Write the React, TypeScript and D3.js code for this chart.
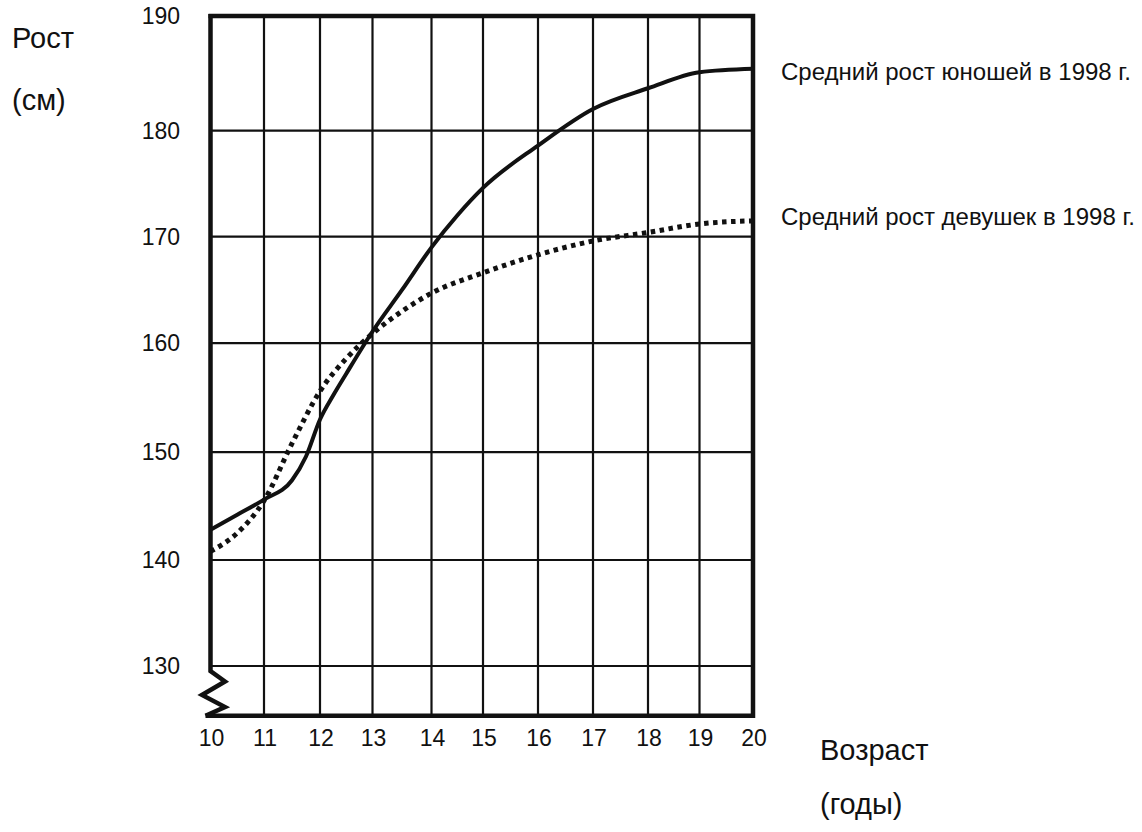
import { useEffect, useRef } from "react";
import * as d3 from "d3";

// ages on the x axis (grid columns)
const ages = [10, 11, 12, 13, 14, 15, 16, 17, 18, 19, 20];
// heights on the y axis (grid rows)
const heights = [190, 180, 170, 160, 150, 140, 130];
const axisBottomValue = 125.3;

// boys (solid line)
const boysAges = [10, 10.5, 11, 11.5, 11.75, 12, 12.25, 12.5, 13, 13.5, 14, 14.5, 15, 16, 17, 18, 19, 20];
const boysHeights = [142.8, 144.2, 145.6, 147.4, 149.6, 153.0, 155.2, 157.2, 161.1, 165.0, 169.0, 172.0, 174.6, 178.6, 181.9, 183.7, 185.1, 185.4];

// girls (dotted line)
const girlsAges = [10, 10.5, 11, 11.5, 12, 12.5, 13, 13.5, 14, 15, 16, 17, 18, 19, 20];
const girlsHeights = [140.8, 142.5, 145.5, 150.8, 155.6, 158.6, 160.9, 163.0, 164.7, 166.6, 168.3, 169.6, 170.4, 171.2, 171.5];

const boysLabel = "Средний рост юношей в 1998 г.";
const girlsLabel = "Средний рост девушек в 1998 г.";

function App() {
  const svgRef = useRef<SVGSVGElement>(null);

  useEffect(() => {
    const svgElement = svgRef.current;
    if (!svgElement) return;

    const width = 1142;
    const height = 832;
    const font = "'Liberation Sans', Arial, sans-serif";
    const ink = "#111";

    const svg = d3
      .select(svgElement)
      .attr("width", width)
      .attr("height", height);

    // hand drawn grid: columns are not perfectly even
    const x = d3
      .scaleLinear()
      .domain(ages)
      .range([210.5, 264, 320, 372.5, 431.5, 483, 538, 593, 648, 699.5, 753]);

    const y = d3
      .scaleLinear()
      .domain(heights)
      .range([16, 130.7, 236.7, 343.2, 452.2, 560, 666]);

    const x0 = x(ages[0]);
    const x1 = x(ages[ages.length - 1]);
    const yTop = y(heights[0]);
    const yBottom = y(axisBottomValue);

    const g = svg.append("g");

    // vertical grid lines
    g.selectAll(".vgrid")
      .data(ages.slice(1, -1))
      .enter()
      .append("line")
      .attr("x1", (d) => x(d))
      .attr("x2", (d) => x(d))
      .attr("y1", yTop)
      .attr("y2", yBottom)
      .attr("stroke", ink)
      .attr("stroke-width", 2.2);

    // horizontal grid lines
    g.selectAll(".hgrid")
      .data(heights.slice(1))
      .enter()
      .append("line")
      .attr("x1", x0)
      .attr("x2", x1)
      .attr("y1", (d) => y(d))
      .attr("y2", (d) => y(d))
      .attr("stroke", ink)
      .attr("stroke-width", 2.2);

    // frame with the axis break zigzag
    const y130 = y(130);
    const frame = d3.path();
    frame.moveTo(x0 - 2, yTop);
    frame.lineTo(x1, yTop);
    frame.lineTo(x1, yBottom);
    frame.lineTo(x0 - 5, yBottom);
    g.append("path")
      .attr("d", frame.toString())
      .attr("fill", "none")
      .attr("stroke", ink)
      .attr("stroke-width", 4.5)
      .attr("stroke-linejoin", "miter");

    const left = d3.path();
    left.moveTo(x0, yTop - 2);
    left.lineTo(x0, y130 + 5);
    left.lineTo(x0 + 14.5, y130 + 15.5);
    left.lineTo(x0 - 8.5, y130 + 29);
    left.lineTo(x0 + 14.5, y130 + 41);
    left.lineTo(x0 - 5, yBottom);
    g.append("path")
      .attr("d", left.toString())
      .attr("fill", "none")
      .attr("stroke", ink)
      .attr("stroke-width", 4.5)
      .attr("stroke-linejoin", "miter");

    const line = d3
      .line<[number, number]>()
      .x((d) => x(d[0]))
      .y((d) => y(d[1]))
      .curve(d3.curveMonotoneX);

    const girls = girlsAges.map((a, i) => [a, girlsHeights[i]] as [number, number]);
    const boys = boysAges.map((a, i) => [a, boysHeights[i]] as [number, number]);

    g.append("path")
      .datum(girls)
      .attr("d", line)
      .attr("fill", "none")
      .attr("stroke", ink)
      .attr("stroke-width", 5)
      .attr("stroke-dasharray", "4.5 4.5");

    g.append("path")
      .datum(boys)
      .attr("d", line)
      .attr("fill", "none")
      .attr("stroke", ink)
      .attr("stroke-width", 4);

    // y tick labels
    g.selectAll(".ytick")
      .data(heights)
      .enter()
      .append("text")
      .attr("x", 180)
      .attr("y", (d) => y(d))
      .attr("dy", "0.36em")
      .attr("text-anchor", "end")
      .style("font-family", font)
      .style("font-size", "23px")
      .style("fill", ink)
      .text((d) => d);

    // x tick labels
    g.selectAll(".xtick")
      .data(ages)
      .enter()
      .append("text")
      .attr("x", (d) => x(d) + 1)
      .attr("y", 746)
      .attr("text-anchor", "middle")
      .style("font-family", font)
      .style("font-size", "23px")
      .style("fill", ink)
      .text((d) => d);

    // axis titles
    const titles = [
      { text: "Рост", x: 12, y: 48 },
      { text: "(см)", x: 12, y: 110 },
      { text: "Возраст", x: 820, y: 760 },
      { text: "(годы)", x: 820, y: 814 },
    ];
    g.selectAll(".title")
      .data(titles)
      .enter()
      .append("text")
      .attr("x", (d) => d.x)
      .attr("y", (d) => d.y)
      .style("font-family", font)
      .style("font-size", "29px")
      .style("fill", ink)
      .text((d) => d.text);

    // series labels
    const labels = [
      { text: boysLabel, y: 80 },
      { text: girlsLabel, y: 225 },
    ];
    g.selectAll(".series-label")
      .data(labels)
      .enter()
      .append("text")
      .attr("x", 781)
      .attr("y", (d) => d.y)
      .style("font-family", font)
      .style("font-size", "24px")
      .style("fill", ink)
      .text((d) => d.text);

    return () => {
      d3.select(svgElement).selectAll("*").remove();
    };
  }, []);

  return (
    <svg
      ref={svgRef}
      style={{ position: "absolute", left: 0, top: 0, display: "block", background: "#fff" }}
    ></svg>
  );
}

export default App;
